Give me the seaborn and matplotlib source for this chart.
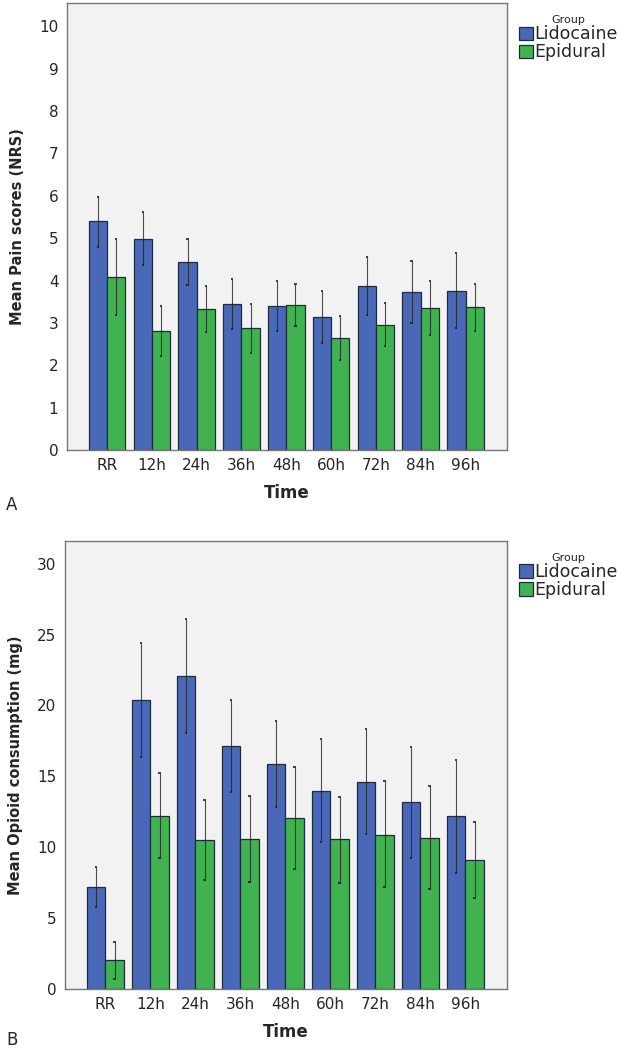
import pandas as pd
import numpy as np
import seaborn as sns
import matplotlib.pyplot as plt

# data
TIMES = ["RR", "12h", "24h", "36h", "48h", "60h", "72h", "84h", "96h"]
GROUPS = ["Lidocaine", "Epidural"]

PAIN_LIDO = [5.40, 4.98, 4.43, 3.44, 3.41, 3.13, 3.88, 3.73, 3.76]
PAIN_LIDO_LO = [4.79, 4.37, 3.89, 2.85, 2.81, 2.52, 3.19, 3.00, 2.88]
PAIN_LIDO_HI = [5.97, 5.61, 4.98, 4.03, 4.00, 3.75, 4.55, 4.47, 4.64]
PAIN_EPI = [4.09, 2.82, 3.33, 2.88, 3.43, 2.64, 2.95, 3.35, 3.37]
PAIN_EPI_LO = [3.18, 2.23, 2.79, 2.30, 2.92, 2.12, 2.45, 2.71, 2.81]
PAIN_EPI_HI = [4.98, 3.40, 3.87, 3.44, 3.92, 3.17, 3.46, 3.98, 3.92]

OPI_LIDO = [7.18, 20.37, 22.06, 17.11, 15.87, 13.96, 14.62, 13.19, 12.18]
OPI_LIDO_LO = [5.75, 16.34, 18.03, 13.87, 12.82, 10.37, 10.92, 9.27, 8.21]
OPI_LIDO_HI = [8.63, 24.41, 26.10, 20.37, 18.89, 17.60, 18.31, 17.09, 16.15]
OPI_EPI = [2.02, 12.23, 10.51, 10.58, 12.04, 10.56, 10.89, 10.68, 9.11]
OPI_EPI_LO = [0.73, 9.25, 7.70, 7.58, 8.45, 7.51, 7.16, 7.04, 6.43]
OPI_EPI_HI = [3.28, 15.21, 13.33, 13.61, 15.63, 13.56, 14.67, 14.32, 11.80]

COLORS = {"Lidocaine": "#4a68b8", "Epidural": "#40b250"}
EDGE = "#1e2b3a"
BG = "#f2f2f2"

sns.set_style("white")
plt.rcParams["font.family"] = ["DejaVu Sans"]


def make_df(lido, lido_lo, lido_hi, epi, epi_lo, epi_hi):
    rows = []
    for g, vals, lo, hi in [("Lidocaine", lido, lido_lo, lido_hi), ("Epidural", epi, epi_lo, epi_hi)]:
        for t, v, l, h in zip(TIMES, vals, lo, hi):
            rows.append({"Time": t, "Group": g, "value": v, "lo": l, "hi": h})
    return pd.DataFrame(rows)


def draw_panel(ax, df, ylabel, ymax, yticks, letter, letter_xy):
    sns.barplot(data=df, x="Time", y="value", hue="Group", order=TIMES, hue_order=GROUPS,
                palette=COLORS, saturation=1, width=0.82, errorbar=None, edgecolor=EDGE,
                linewidth=0.9, ax=ax, legend=True)
    # error bars at bar centres
    for g, bars in zip(GROUPS, ax.containers):
        sub = df[df["Group"] == g].set_index("Time").loc[TIMES]
        xs = np.array([b.get_x() + b.get_width() / 2 for b in bars])
        ax.vlines(xs, sub["lo"], sub["hi"], color="#222222", lw=0.8, alpha=0.8, zorder=3)
        ax.hlines(sub["lo"], xs - 0.025, xs + 0.025, color="#222222", lw=1.2, zorder=3)
        ax.hlines(sub["hi"], xs - 0.025, xs + 0.025, color="#222222", lw=1.2, zorder=3)

    ax.set_facecolor(BG)
    ax.set_xlim(-0.9, 8.92)
    ax.set_ylim(0, ymax)
    ax.set_yticks(yticks)
    for s in ax.spines.values():
        s.set_color("#777777")
        s.set_linewidth(1.0)
    ax.tick_params(axis="both", length=4, width=0.9, color="#555555", labelsize=11, pad=2)
    ax.set_xlabel("Time", fontsize=12, fontweight="bold", labelpad=8)
    ax.set_ylabel(ylabel, fontsize=10.5, fontweight="bold", labelpad=10)

    leg = ax.legend(title="Group", loc="upper left", bbox_to_anchor=(1.0, 1.0), frameon=False,
                    fontsize=12.5, title_fontsize=8, handlelength=0.8, handleheight=0.8,
                    handletextpad=0.1, labelspacing=0.0, borderpad=0.2, borderaxespad=0.5)
    leg._legend_box.align = "center"
    ax.text(letter_xy[0], letter_xy[1], letter, transform=ax.transAxes, fontsize=12,
            ha="left", va="center")


fig = plt.figure(figsize=(6.18, 10.5), dpi=100)
ax1 = fig.add_axes([0.108, 0.5714, 0.712, 0.4257])
ax2 = fig.add_axes([0.105, 0.0581, 0.715, 0.4267])

draw_panel(ax1, make_df(PAIN_LIDO, PAIN_LIDO_LO, PAIN_LIDO_HI, PAIN_EPI, PAIN_EPI_LO, PAIN_EPI_HI),
           "Mean Pain scores (NRS)", 10.55, range(0, 11), "A", (-0.139, -0.123))
draw_panel(ax2, make_df(OPI_LIDO, OPI_LIDO_LO, OPI_LIDO_HI, OPI_EPI, OPI_EPI_LO, OPI_EPI_HI),
           "Mean Opioid consumption (mg)", 31.6, range(0, 31, 5), "B", (-0.133, -0.114))

fig.savefig("out.png", dpi=100)
